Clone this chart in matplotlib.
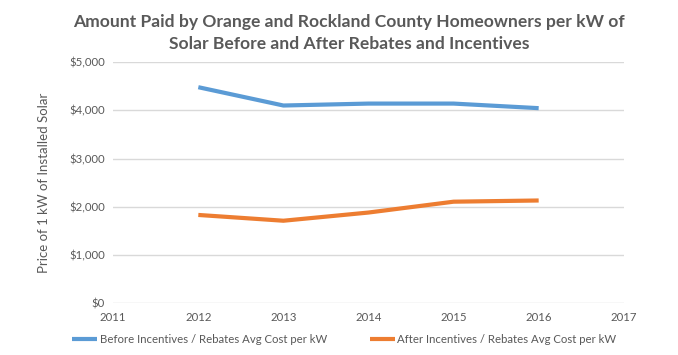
import matplotlib
matplotlib.use("Agg")
import matplotlib.pyplot as plt
from matplotlib.ticker import FuncFormatter

# values
years = [2012, 2013, 2014, 2015, 2016]
before = [4480, 4100, 4140, 4140, 4045]
after = [1830, 1710, 1880, 2105, 2130]
before_label = "Before Incentives / Rebates Avg Cost per kW"
after_label = "After Incentives / Rebates Avg Cost per kW"
title = ("Amount Paid by Orange and Rockland County Homeowners per kW of\n"
         "Solar Before and After Rebates and Incentives")

plt.rcParams["font.family"] = ["Lato", "DejaVu Sans"]
grey = "#595959"

fig = plt.figure(figsize=(6.78, 3.55), dpi=100)
ax = fig.add_axes([0.167, 0.146, 0.753, 0.679])

ax.plot(years, before, color="#5B9BD5", lw=3, label=before_label, solid_capstyle="butt")
ax.plot(years, after, color="#ED7D31", lw=3, label=after_label, solid_capstyle="butt")

ax.set_xlim(2011, 2017)
ax.set_ylim(0, 5000)
ax.set_xticks(range(2011, 2018))
ax.set_yticks(range(0, 5001, 1000))
ax.yaxis.set_major_formatter(FuncFormatter(lambda v, p: "${:,.0f}".format(v)))
ax.tick_params(length=0, labelsize=8.2, labelcolor=grey, pad=6)
ax.grid(axis="y", color="#D9D9D9", lw=1)
ax.set_axisbelow(True)
for s in ax.spines.values():
    s.set_visible(False)

ax.set_ylabel("Price of 1 kW of Installed Solar", fontsize=9.5, color=grey, labelpad=14)

fig.text(0.515, 0.96, title, ha="center", va="top", fontsize=12.6, fontweight="bold",
         color=grey, linespacing=1.45)

fig.legend(loc="lower center", bbox_to_anchor=(0.508, 0.0), ncol=2, frameon=False,
           fontsize=8.2, labelcolor=grey, handlelength=2.2, handletextpad=0.2,
           columnspacing=3.8)

fig.savefig("out.png", dpi=100)
